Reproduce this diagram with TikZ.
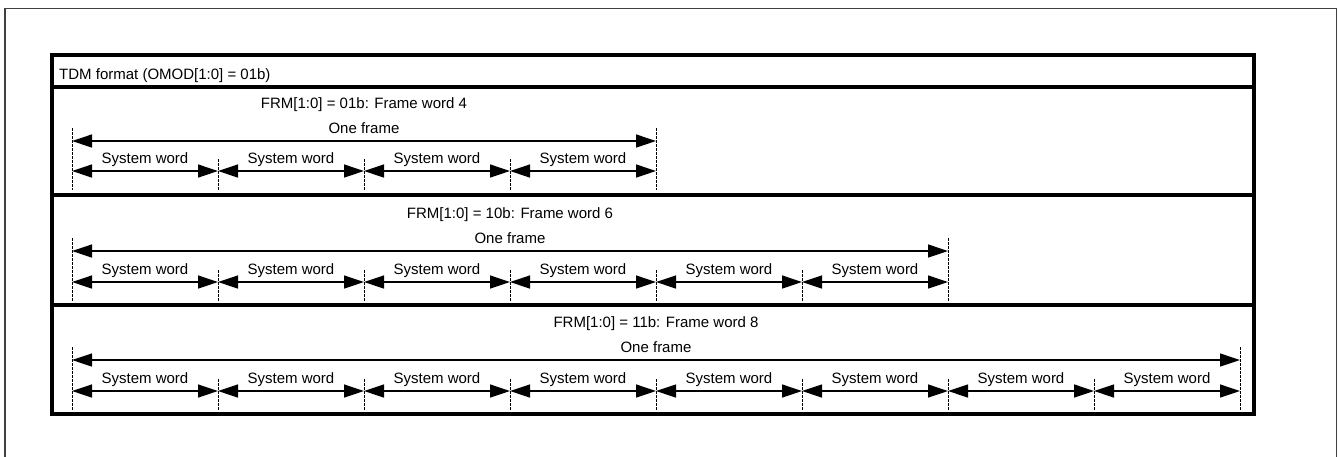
\documentclass[tikz,border=0pt]{standalone}
\usepackage{fontspec}
\setmainfont{Liberation Sans}
\usetikzlibrary{positioning,arrows.meta}

\begin{document}
\begin{tikzpicture}[x=1pt, y=-1pt,
  every node/.style={font=\fontsize{15}{17}\selectfont, inner sep=0pt},
  outer/.style={draw=black!75, line width=1.2pt},
  panel/.style={draw, line width=3.6pt},
  guide/.style={line width=0.9pt, dash pattern=on 2.5pt off 1.5pt},
  span/.style={{Triangle[length=20pt,width=13pt]}-{Triangle[length=20pt,width=13pt]},
               line width=1.3pt},
  lbl/.style={midway, anchor=base, yshift=8pt},
]
\useasboundingbox (0,0) rectangle (1338,456);
\clip (0,0) rectangle (1338,456);

% ---- outer frame and table ---------------------------------------------
\draw[outer] (5,8.5) rectangle (1336.5,470);
\draw[panel] (52,55) rectangle (1254,414);
\draw[panel] (52,87) -- (1254,87);
\draw[panel] (52,195) -- (1254,195);
\draw[panel] (52,305) -- (1254,305);

\node[anchor=base west] (title) at (59,79) {TDM format (OMOD[1:0] = 01b)};

% ---- one row per FRM setting -------------------------------------------
\foreach \r/\fy/\wy/\n/\code in {1/141/171/4/01b, 2/251/282/6/10b, 3/360/391/8/11b} {
  \pgfmathsetmacro{\xe}{72+146*\n}
  \pgfmathtruncatemacro{\m}{\n-1}
  \foreach \k in {0,...,\n} {
    \coordinate (w\r-\k) at ({72+146*\k},\wy);
  }
  \coordinate (f\r-s) at (72,\fy);
  \coordinate (f\r-e) at (\xe,\fy);

  \node[anchor=base] (frm\r) at ({(72+\xe)/2},\fy-33) {FRM[1:0] = \code: Frame word \n};

  % frame span
  \draw[span] (f\r-s) -- node[lbl] (one\r) {One frame} (f\r-e);

  % word spans
  \foreach \k [evaluate=\k as \j using int(\k+1)] in {0,...,\m} {
    \draw[span] (w\r-\k) -- node[lbl] (sw\r-\k) {System word} (w\r-\j);
  }

  % boundary guides
  \draw[guide] (f\r-s) ++(0,-13) -- (w\r-0) -- ++(0,19);
  \draw[guide] (f\r-e) ++(0,-13) -- (w\r-\n) -- ++(0,19);
  \foreach \k in {1,...,\m} {
    \draw[guide] (w\r-\k) ++(0,-12) -- (w\r-\k) -- ++(0,19);
  }
}

\end{tikzpicture}
\end{document}
